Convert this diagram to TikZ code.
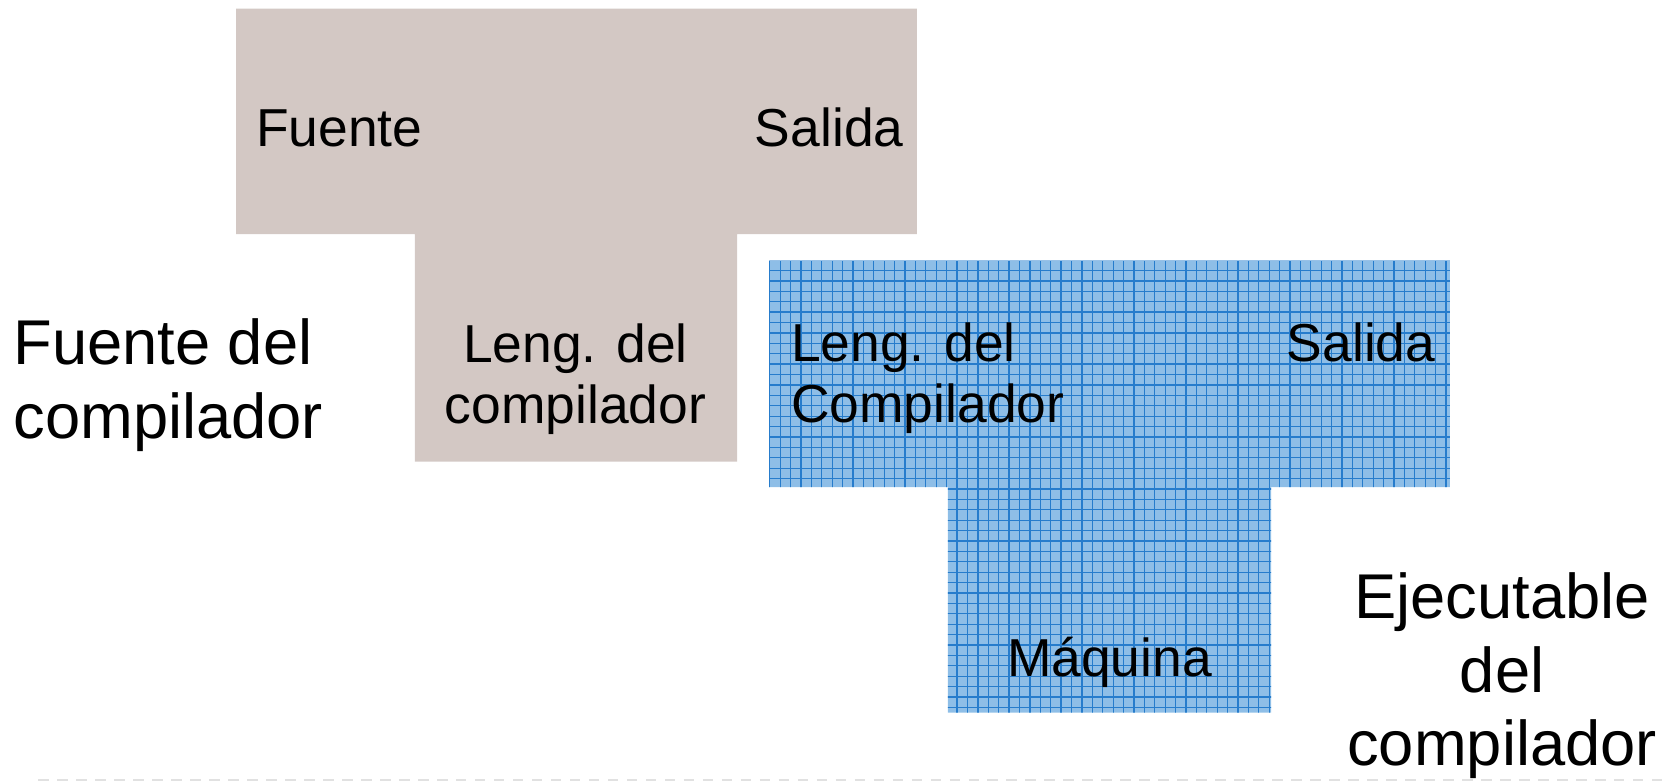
\documentclass[tikz,border=0pt]{standalone}
\usepackage{fontspec}
\setmainfont{Liberation Sans}
\definecolor{beige}{RGB}{211,200,196}
\definecolor{bluefill}{RGB}{142,190,231}
\definecolor{blueline}{RGB}{38,124,204}
\definecolor{dashgray}{RGB}{225,225,225}
\newcommand{\smalltxt}{\fontsize{15.2}{17.25}\selectfont}
\newcommand{\bigtxt}{\fontsize{18}{20.9}\selectfont}
\begin{document}
\begin{tikzpicture}[x=0.010638cm,y=-0.010638cm,
  lbl/.style={inner sep=0pt,font=\smalltxt},
  biglbl/.style={inner sep=0pt,font=\bigtxt,align=center},
  gridmain/.style={draw=blueline,line width=0.35pt}]
\useasboundingbox (0,0) rectangle (1568,735);
% beige T
\fill[beige] (222,8) -- (862,8) -- (862,220) -- (693,220) -- (693,434) -- (390,434) -- (390,220) -- (222,220) -- cycle;
% blue T with grid
\begin{scope}
\clip (723,245) -- (1363,245) -- (1363,458) -- (1195,458) -- (1195,670) -- (891,670) -- (891,458) -- (723,458) -- cycle;
\fill[bluefill] (700,230) rectangle (1380,690);
\draw[gridmain,step=0.104cm] (700,230) grid (1380,690);
\end{scope}
% labels on beige
\node[lbl,anchor=base west] (fuente) at (240,138) {Fuente};
\node[lbl,anchor=base east] (salida1) at (850,138) {Salida};
\node[lbl,anchor=base,align=center] (leng1) at (541,398) {Leng. del\\compilador};
% labels on blue
\node[lbl,anchor=base west,align=left] (leng2) at (743,397) {Leng. del\\Compilador};
\node[lbl,anchor=base east] (salida2) at (1350,340) {Salida};
\node[lbl,anchor=base] (maquina) at (1043,636) {Máquina};
% big labels
\node[biglbl,anchor=base west,align=left] (fuentecomp) at (12,412) {Fuente del\\compilador};
\node[biglbl,anchor=base] (ejec) at (1412,720) {Ejecutable\\del\\compilador};
% dashed line
\coordinate (dl) at (36,733);
\coordinate (dr) at (1568,733);
\draw[dashgray,line width=0.6pt,dash pattern=on 3pt off 2.4pt] (dl) -- (dr);
\end{tikzpicture}
\end{document}
